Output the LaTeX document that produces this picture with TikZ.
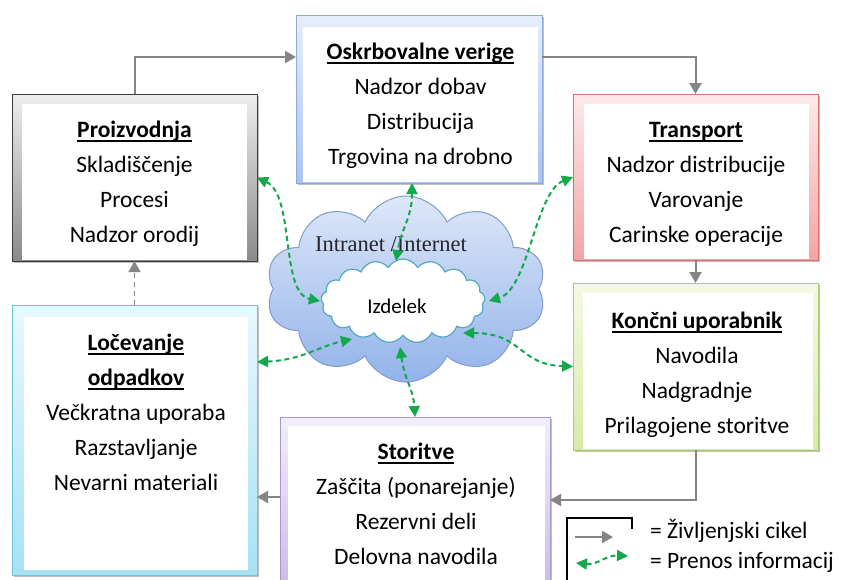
\documentclass[tikz,border=0pt]{standalone}
\usepackage{fontspec}
\setmainfont{Carlito}
\newfontfamily\serifnet{Liberation Serif}
\usetikzlibrary{shapes.symbols,arrows.meta,calc,shadows}
\definecolor{lifegray}{HTML}{858585}
\definecolor{infogreen}{HTML}{14A84C}
\definecolor{grayline}{HTML}{3C3C3C}
\definecolor{graytop}{HTML}{EEEEEE}
\definecolor{graybot}{HTML}{8A8A8A}
\definecolor{blueline}{HTML}{8EAADB}
\definecolor{bluetop}{HTML}{E6EEFB}
\definecolor{bluebot}{HTML}{A9C4F0}
\definecolor{redline}{HTML}{D67070}
\definecolor{redtop}{HTML}{FDEAEA}
\definecolor{redbot}{HTML}{F4A4A4}
\definecolor{greenline}{HTML}{A8CC70}
\definecolor{greentop}{HTML}{F4FAE2}
\definecolor{greenbot}{HTML}{D6EBAA}
\definecolor{cyanline}{HTML}{6CC4DC}
\definecolor{cyantop}{HTML}{E8F8FD}
\definecolor{cyanbot}{HTML}{A6E2F4}
\definecolor{purpline}{HTML}{A898CC}
\definecolor{purptop}{HTML}{F2EEF9}
\definecolor{purpbot}{HTML}{C8B8E6}
\definecolor{cloudline}{HTML}{7F9CCB}
\definecolor{cloudtop}{HTML}{DDE7F8}
\definecolor{cloudbot}{HTML}{93B3EA}
\definecolor{izdline}{HTML}{4FA9C2}
\definecolor{netgray}{HTML}{262630}
\newcommand\boxtitle[1]{\setbox0\hbox{\textbf{#1}}\rlap{\rule[-4.6pt]{\wd0}{1.4pt}}\box0}
\begin{document}
\begin{tikzpicture}[x=1pt,y=-1pt,
  every node/.style={inner sep=0pt, outer sep=0pt},
  frame/.style n args={3}{rectangle, draw=#1, line width=1pt, top color=#2, bottom color=#3,
    drop shadow={shadow xshift=1.5pt, shadow yshift=-1.5pt, opacity=0.25, fill=black}},
  whitebox/.style={rectangle, fill=white},
  txt/.style={font=\fontsize{23.5}{35}\selectfont, anchor=base, text=black},
  life/.style={draw=lifegray, line width=2pt, -{Triangle[length=11pt,width=12pt]}},
  info/.style={draw=infogreen, line width=2pt, dash pattern=on 5pt off 3.5pt,
    {Triangle[length=11pt,width=11pt]}-{Triangle[length=11pt,width=11pt]}},
]
\useasboundingbox[fill=white] (0,0) rectangle (843,579);

% frames
\node[frame={grayline}{graytop}{graybot}, minimum width=245pt, minimum height=167pt] (proiz) at (134.5,177.5) {};
\node[whitebox, minimum width=225pt, minimum height=156pt] (proizW) at (134.5,182) {};
\node[frame={blueline}{bluetop}{bluebot}, minimum width=246pt, minimum height=168pt] (osk) at (419,99) {};
\node[whitebox, minimum width=235pt, minimum height=155pt] (oskW) at (420.5,104.5) {};
\node[frame={redline}{redtop}{redbot}, minimum width=245pt, minimum height=166pt] (transport) at (695.5,177) {};
\node[whitebox, minimum width=225pt, minimum height=155pt] (transportW) at (696.5,181.5) {};
\node[frame={greenline}{greentop}{greenbot}, minimum width=245pt, minimum height=167pt] (konc) at (695.5,366.5) {};
\node[whitebox, minimum width=230pt, minimum height=156pt] (koncW) at (698,371) {};
\node[frame={cyanline}{cyantop}{cyanbot}, minimum width=245pt, minimum height=270pt] (locev) at (134.5,440) {};
\node[whitebox, minimum width=224pt, minimum height=253pt] (locevW) at (136,443.5) {};
\node[frame={purpline}{purptop}{purpbot}, minimum width=270pt, minimum height=183pt] (storit) at (415,508.5) {};
\node[whitebox, minimum width=257pt, minimum height=174pt] (storitW) at (416.5,513) {};

% texts
\node[txt] (proizT) at (134.5,137) {\begin{tabular}[t]{@{}c@{}}\boxtitle{Proizvodnja}\\Skladiščenje\\Procesi\\Nadzor orodij\end{tabular}};
\node[txt] (oskT) at (420.5,59) {\begin{tabular}[t]{@{}c@{}}\boxtitle{Oskrbovalne verige}\\Nadzor dobav\\Distribucija\\Trgovina na drobno\end{tabular}};
\node[txt] (transportT) at (696,137) {\begin{tabular}[t]{@{}c@{}}\boxtitle{Transport}\\Nadzor distribucije\\Varovanje\\Carinske operacije\end{tabular}};
\node[txt] (koncT) at (697,328) {\begin{tabular}[t]{@{}c@{}}\boxtitle{Končni uporabnik}\\Navodila\\Nadgradnje\\Prilagojene storitve\end{tabular}};
\node[txt] (locevT) at (136,350) {\begin{tabular}[t]{@{}c@{}}\boxtitle{Ločevanje}\\\boxtitle{odpadkov}\\Večkratna uporaba\\Razstavljanje\\Nevarni materiali\end{tabular}};
\node[txt] (storitT) at (416,459) {\begin{tabular}[t]{@{}c@{}}\boxtitle{Storitve}\\Zaščita (ponarejanje)\\Rezervni deli\\Delovna navodila\end{tabular}};

% clouds
\node[cloud, cloud puffs=10, cloud puff arc=130, cloud ignores aspect, minimum width=280pt, minimum height=186pt,
  draw=cloudline, line width=1pt, top color=cloudtop, bottom color=cloudbot] (net) at (406,289) {};
\node[font=\serifnet\fontsize{22.5}{27}\selectfont, text=netgray] (netT) at (391,244) {Intranet /Internet};
\node[cloud, cloud puffs=17, cloud puff arc=120, cloud ignores aspect, minimum width=164pt, minimum height=84pt,
  draw=izdline, line width=1.2pt, fill=white] (izd) at (403,301) {};
\node[font=\fontsize{21}{25}\selectfont] (izdT) at (397,306) {Izdelek};

% cloud connection points
\coordinate (cW) at (320,301);
\coordinate (cN) at (396,261);
\coordinate (cE) at (489,301);
\coordinate (cSW) at (352,339);
\coordinate (cS) at (400,347);
\coordinate (cSE) at (463,333);

% life cycle
\draw[life] (proiz.north) |- (osk.west |- 0,57);
\draw[life] (osk.east |- 0,57) -| (transport.north);
\draw[life] (transport.south) -- (konc.north);
\draw[life] (konc.south) |- (storit.east |- 0,500);
\draw[life] (storit.west |- 0,497) -- (locev.east |- 0,497);
\draw[life, line width=1.5pt, dash pattern=on 5pt off 4pt] (locev.north) -- (proiz.south);

% information
\draw[info] (proiz.east) .. controls +(38,18) and +(-40,-8) .. (cW);
\draw[info] ([xshift=-7pt]osk.south) .. controls +(0,35) and +(6,-35) .. (cN);
\draw[info] (transport.west) .. controls +(-38,15) and +(40,-12) .. (cE);
\draw[info] (locev.east |- 0,362) .. controls +(45,-2) and +(-35,8) .. (cSW);
\draw[info] (cS) .. controls +(5,35) and +(-2,-30) .. (storit.north);
\draw[info] (cSE) .. controls +(60,0) and +(-55,-2) .. (konc.west);

% legend
\draw[line width=2pt] (632,529) -- (632,518) -- (567,518) -- (567,590);
\coordinate (lgA) at (575,537);
\coordinate (lgB) at (613,537);
\coordinate (lgC) at (576,563);
\coordinate (lgD) at (628,556);
\draw[life] (lgA) -- (lgB);
\draw[info] (lgC) .. controls +(22,2) and +(-22,-1) .. (lgD);
\node[txt, anchor=base west] (lgT1) at (650,538) {= Življenjski cikel};
\node[txt, anchor=base west] (lgT2) at (650,568) {= Prenos informacij};
\end{tikzpicture}
\end{document}
